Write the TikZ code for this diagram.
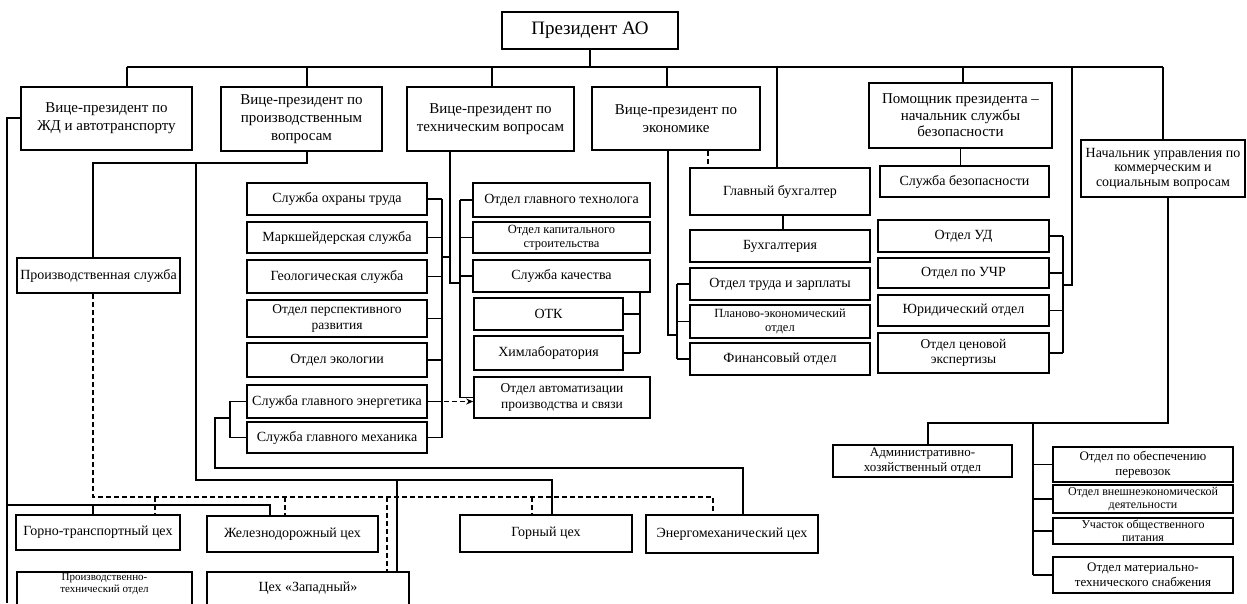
\documentclass[tikz,border=0pt]{standalone}
\usepackage{fontspec}
\setmainfont{Liberation Serif}
\usetikzlibrary{arrows.meta}
\tikzset{
 box/.style={draw, line width=1.6pt, align=center, inner sep=1pt, font=\fontsize{14}{17}\selectfont},
 fbig/.style={font=\fontsize{19}{21}\selectfont},
 fvp/.style={font=\fontsize{15}{18}\selectfont},
 fpm/.style={font=\fontsize{15}{16.5}\selectfont},
 fnc/.style={font=\fontsize{14}{14.5}\selectfont},
 fmid/.style={font=\fontsize{13.5}{15.5}\selectfont},
 fsm/.style={font=\fontsize{12.5}{14}\selectfont},
 fcm/.style={font=\fontsize{13}{15}\selectfont},
 fxs/.style={font=\fontsize{12}{12.5}\selectfont},
 ftn/.style={font=\fontsize{11}{12}\selectfont},
 dsh/.style={line width=1.2pt, dash pattern=on 5pt off 3pt},
}
\newcommand\bx[7][]{\node[box,#1,minimum width={#5-#3},minimum height={#6-#4}] (#2) at ({(#3+#5)/2},{(#4+#6)/2}) {#7};}
\begin{document}
\begin{tikzpicture}[x=1pt,y=-1pt,line width=1.2pt]
\useasboundingbox (0,0) rectangle (1247,603);
\clip (0,0) rectangle (1247,603);
% top level
\bx[fbig]{pres}{502}{12}{678}{49}{Президент АО}
\bx[fvp]{vpzd}{21}{87}{192}{150}{Вице-президент по\\ЖД и автотранспорту}
\bx[fvp]{vpprod}{221}{87}{382}{151}{Вице-президент по\\производственным\\вопросам}
\bx[fvp]{vptech}{407}{87}{574}{151}{Вице-президент по\\техническим вопросам}
\bx[fvp]{vpecon}{592}{87}{760}{150}{Вице-президент по\\экономике}
\bx[fpm]{pom}{869}{83}{1052}{148}{Помощник президента –\\начальник службы\\безопасности}
\bx[fnc]{nach}{1081}{140}{1245}{197}{Начальник управления по\\коммерческим и\\социальным вопросам}
% security
\bx{sb}{880}{166}{1049}{197}{Служба безопасности}
\bx{ud}{878}{220}{1049}{252}{Отдел УД}
\bx{uchr}{878}{258}{1049}{288}{Отдел по УЧР}
\bx{yur}{878}{295}{1049}{326}{Юридический отдел}
\bx[fmid]{cen}{878}{333}{1049}{373}{Отдел ценовой\\экспертизы}
% economics
\bx{glb}{690}{168}{870}{215}{Главный бухгалтер}
\bx{buh}{690}{230}{870}{262}{Бухгалтерия}
\bx{otz}{690}{268}{870}{300}{Отдел труда и зарплаты}
\bx[fsm]{pek}{690}{305}{870}{338}{Планово-экономический\\отдел}
\bx{fin}{690}{343}{870}{375}{Финансовый отдел}
% production
\bx{prs}{17}{258}{180}{293}{Производственная служба}
\bx{sot}{247}{183}{427}{215}{Служба охраны труда}
\bx{mark}{247}{222}{427}{253}{Маркшейдерская служба}
\bx{geo}{247}{260}{427}{293}{Геологическая служба}
\bx[fmid]{opr}{247}{300}{427}{337}{Отдел перспективного\\развития}
\bx{eco}{247}{343}{427}{377}{Отдел экологии}
\bx{sge}{247}{385}{427}{418}{Служба главного энергетика}
\bx{sgm}{247}{422}{427}{453}{Служба главного механика}
% technical
\bx{ogt}{473}{183}{650}{217}{Отдел главного технолога}
\bx[fsm]{oks}{473}{222}{650}{253}{Отдел капитального\\строительства}
\bx{sk}{473}{260}{650}{292}{Служба качества}
\bx{otk}{474}{298}{623}{330}{ОТК}
\bx{him}{474}{336}{623}{370}{Химлаборатория}
\bx[fmid]{oap}{474}{377}{650}{418}{Отдел автоматизации\\производства и связи}
% commercial
\bx[fcm]{adm}{833}{445}{1012}{477}{Административно-\\хозяйственный отдел}
\bx[fcm]{oop}{1053}{447}{1233}{482}{Отдел по обеспечению\\перевозок}
\bx[fxs]{ove}{1053}{485}{1233}{513}{Отдел внешнеэкономической\\деятельности}
\bx[fxs]{uop}{1053}{518}{1233}{544}{Участок общественного\\питания}
\bx[fcm]{omt}{1053}{557}{1233}{593}{Отдел материально-\\технического снабжения}
% shops
\bx{gtc}{16}{515}{180}{550}{Горно-транспортный цех}
\bx{zdc}{207}{516}{378}{552}{Железнодорожный цех}
\bx{gc}{460}{515}{632}{552}{Горный цех}
\bx{emc}{646}{515}{818}{553}{Энергомеханический цех}
\bx[ftn]{pto}{17}{572}{192}{620}{Производственно-\\технический отдел\\[14pt]\mbox{}}
\bx{zap}{207}{572}{409}{620}{Цех «Западный»\\[2pt]\mbox{}}
% bus
\coordinate (bL) at (127,67);
\coordinate (bR) at (1163,67);
\draw (pres.south) -- (pres.south |- bL);
\draw (bL) -- (bR);
\foreach \x/\n in {127/vpzd,307/vpprod,492/vptech,667/vpecon,777/glb,963/pom,1163/nach} {
  \coordinate (t) at (\x,67);
  \draw (t) -- (t |- \n.north);
}
% security branch
\draw (pom.south) -- (pom.south |- sb.north);
\coordinate (k1) at (1072,67);
\coordinate (k2) at (1072,285);
\coordinate (k3) at (1063,285);
\draw (k1) -- (k2) -- (k3);
\foreach \n in {ud,uchr,yur,cen} \draw (\n.east) -- (\n.east -| k3);
\draw (ud.east -| k3) -- (cen.east -| k3);
% economics branch
\coordinate (e2) at (668,335);
\coordinate (e3) at (677,335);
\draw (vpecon.south -| e2) -- (e2) -- (e3);
\foreach \n in {otz,pek,fin} \draw (\n.west) -- (\n.west -| e3);
\draw (otz.west -| e3) -- (fin.west -| e3);
\coordinate (d1) at (708,160);
\draw[dsh] (vpecon.south -| d1) -- (glb.north -| d1);
\coordinate (g1) at (783,220);
\draw (glb.south -| g1) -- (buh.north -| g1);
% production branch
\coordinate (p1) at (307,163);
\coordinate (p2) at (93,163);
\coordinate (p3) at (196,163);
\coordinate (p4) at (196,480);
\coordinate (p5) at (552,480);
\coordinate (p6) at (397,480);
\draw (vpprod.south -| p1) -- (p1) -- (p2) -- (p2 |- prs.north);
\draw (p3) -- (p4) -- (p5) -- (p5 |- gc.north);
\draw (p6) -- (p6 |- zap.north);
\coordinate (q1) at (93,497);
\coordinate (q2) at (713,497);
\draw[dsh] (prs.south -| q1) -- (q1) -- (q2) -- (q2 |- emc.north);
\foreach \x/\n in {155/gtc,285/zdc,387/zap,532/gc} {
  \coordinate (t) at (\x,497);
  \draw[dsh] (t) -- (t |- \n.north);
}
% railway branch
\coordinate (z1) at (7,118);
\coordinate (z2) at (7,603);
\coordinate (z3) at (7,505);
\coordinate (z4) at (270,505);
\coordinate (z5) at (93,505);
\draw (vpzd.west |- z1) -- (z1) -- (z2);
\draw (z3) -- (z4) -- (z4 |- zdc.north);
\draw (z5) -- (z5 |- gtc.north);
% services bracket
\coordinate (l1) at (442,257);
\coordinate (l3) at (450,257);
\foreach \n in {sot,mark,geo,opr,eco,sge,sgm} \draw (\n.east) -- (\n.east -| l1);
\draw (sot.east -| l1) -- (sgm.east -| l1);
\draw (l1) -- (l3);
% technical branch
\coordinate (v1) at (450,283);
\coordinate (v2) at (460,283);
\draw (vptech.south -| v1) -- (v1) -- (v2);
\foreach \n in {ogt,oks,sk,oap} \draw (\n.west) -- (\n.west -| v2);
\draw (ogt.west -| v2) -- (oap.west -| v2);
\coordinate (s1) at (640,300);
\draw (sk.south -| s1) -- (him.east -| s1);
\draw (otk.east) -- (otk.east -| s1);
\draw (him.east) -- (him.east -| s1);
\draw[dsh,-{Stealth[length=7pt,width=6pt]}] (sge.east) -- (sge.east -| oap.west);
% energy / mechanic bracket
\coordinate (m1) at (230,418);
\coordinate (m2) at (215,418);
\coordinate (m3) at (215,468);
\coordinate (m4) at (743,468);
\draw (sge.west) -- (sge.west -| m1) -- (sgm.west -| m1) -- (sgm.west);
\draw (m1) -- (m2) -- (m3) -- (m4) -- (m4 |- emc.north);
% commercial branch
\coordinate (n1) at (1168,423);
\coordinate (n2) at (928,423);
\coordinate (n3) at (1033,423);
\draw (nach.south -| n1) -- (n1) -- (n2) -- (n2 |- adm.north);
\draw (n3) -- (n3 |- omt.west);
\foreach \n in {oop,ove,uop,omt} \draw (\n.west) -- (\n.west -| n3);
\end{tikzpicture}
\end{document}
